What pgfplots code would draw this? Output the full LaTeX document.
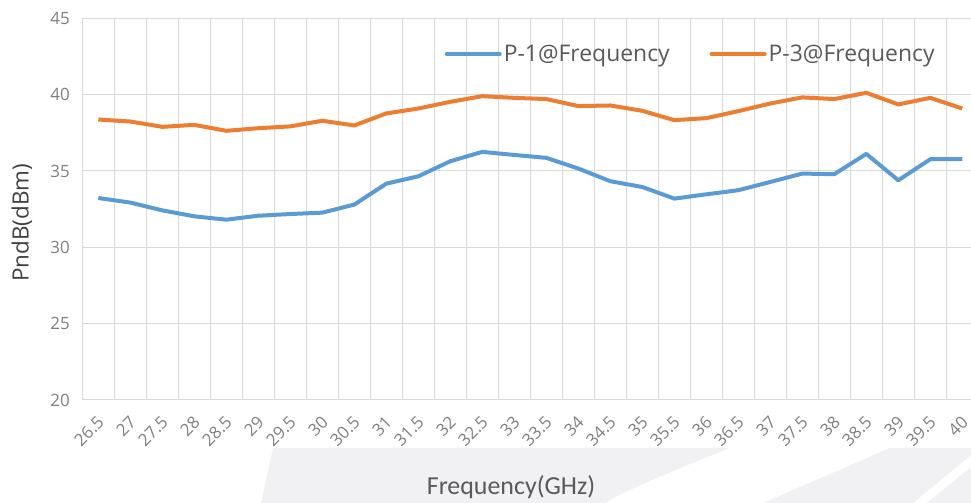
\documentclass[border=0pt]{standalone}
\usepackage{fontspec}
\setmainfont{Open Sans}
\newfontfamily\carlito{Carlito}
\usepackage{pgfplots}
\pgfplotsset{compat=1.18}
\definecolor{c1}{HTML}{5B9BD5}
\definecolor{c3}{HTML}{ED7D31}
\definecolor{gridc}{HTML}{D9D9D9}
\definecolor{tickc}{HTML}{7F7F7F}
\definecolor{labc}{HTML}{595959}
\definecolor{ylabc}{HTML}{404040}
\definecolor{wm}{RGB}{241,241,244}
\begin{document}
\begin{tikzpicture}
\useasboundingbox (0bp,0bp) rectangle (971bp,503bp);
\begin{scope}[x=1bp,y=-1bp,yshift=503bp]
\fill[wm] (273,448) -- (730,448) .. controls (680,468) and (630,488) .. (605,503) -- (261,503) -- cycle;
\fill[wm] (763,503) -- (890,448) -- (971,448) -- (971,455) -- (913,503) -- cycle;
\fill[wm] (927,503) -- (971,467) -- (971,503) -- cycle;
\end{scope}
\begin{axis}[
  at={(82.3bp,103bp)}, anchor=south west,
  scale only axis, width=896bp, height=381.7bp,
  xmin=-0.5, xmax=27.5, ymin=20, ymax=45,
  /pgf/number format/assume math mode=true,
  axis lines*=left,
  axis line style={gridc, line width=1bp, -},
  ytick={20,25,30,35,40,45},
  ymajorgrids,
  xtick={0,...,27},
  xticklabels={26.5,27,27.5,28,28.5,29,29.5,30,30.5,31,31.5,32,32.5,33,33.5,34,34.5,35,35.5,36,36.5,37,37.5,38,38.5,39,39.5,40},
  minor xtick={-0.5,0.5,...,27.5},
  xminorgrids,
  grid style={gridc, line width=1bp},
  minor grid style={gridc, line width=1bp},
  major tick length=0pt, minor tick length=0pt,
  tick label style={font=\fontsize{17}{20}\selectfont, text=tickc},
  yticklabel style={xshift=-9bp},
  xticklabel style={xshift=5bp, yshift=-17bp, rotate=45, anchor=east},
  xlabel={\carlito Frequency(GHz)},
  xlabel style={at={(axis description cs:0.4785,-0.228)}, anchor=center, font=\fontsize{26}{30}\selectfont, text=labc},
  ylabel={PndB(dBm)},
  ylabel style={at={(axis description cs:-0.0673,0.464)}, anchor=center, font=\fontsize{22.5}{26}\selectfont, text=ylabc},
  legend style={at={(axis description cs:0.679,0.906)}, anchor=center, draw=none, fill=none,
    font=\fontsize{23}{28}\selectfont, text=labc,
    /tikz/every even column/.append style={column sep=38bp}},
  legend columns=2,
  legend cell align=left,
  legend image code/.code={\draw[#1, line width=4bp, line cap=round] (0bp,0bp) -- (53bp,0bp);},
]
\addplot[c1, line width=4bp, line join=round] coordinates {
(0,33.23) (1,32.93) (2,32.42) (3,32.03) (4,31.81) (5,32.07) (6,32.18) (7,32.27)
(8,32.80) (9,34.17) (10,34.65) (11,35.64) (12,36.25) (13,36.05) (14,35.86) (15,35.16)
(16,34.33) (17,33.95) (18,33.19) (19,33.47) (20,33.74) (21,34.28) (22,34.83) (23,34.79)
(24,36.12) (25,34.39) (26,35.77) (27,35.77)};
\addlegendentry{P-1@Frequency}
\addplot[c3, line width=4bp, line join=round] coordinates {
(0,38.37) (1,38.24) (2,37.89) (3,38.02) (4,37.63) (5,37.80) (6,37.92) (7,38.29)
(8,37.98) (9,38.77) (10,39.09) (11,39.53) (12,39.90) (13,39.79) (14,39.71) (15,39.25)
(16,39.29) (17,38.94) (18,38.33) (19,38.46) (20,38.92) (21,39.42) (22,39.82) (23,39.71)
(24,40.12) (25,39.36) (26,39.79) (27,39.09)};
\addlegendentry{P-3@Frequency}
\end{axis}
\end{tikzpicture}
\end{document}
